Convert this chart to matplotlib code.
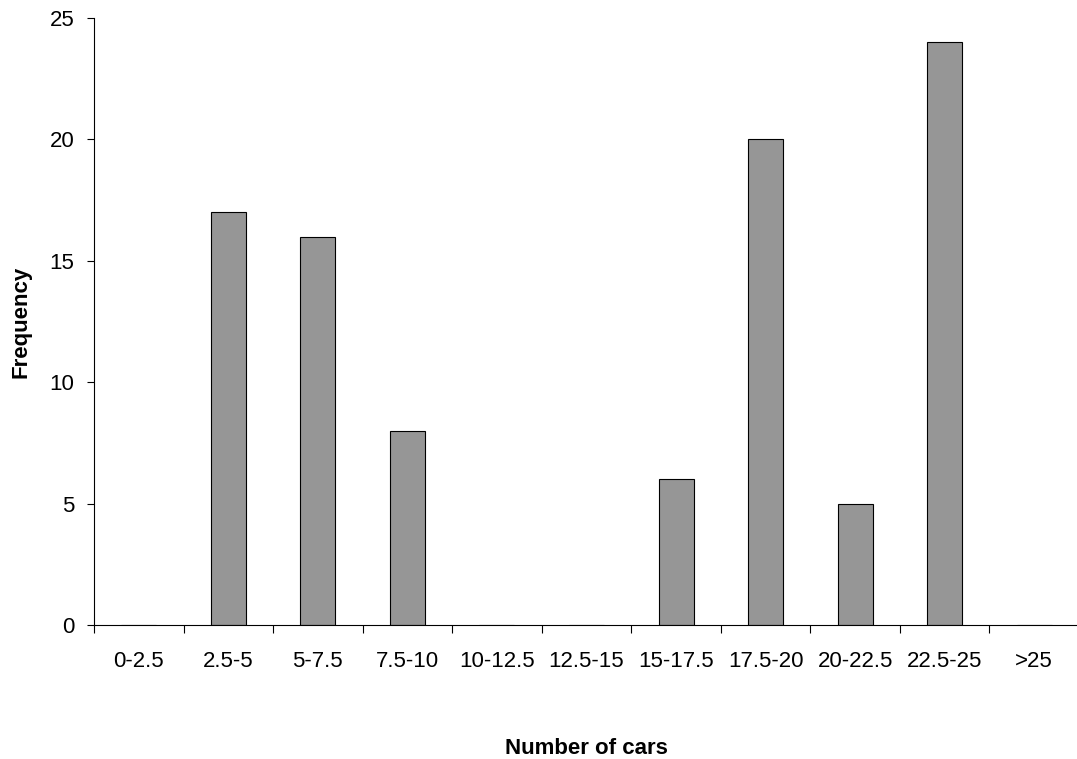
import matplotlib
matplotlib.use("Agg")
import matplotlib.pyplot as plt
import numpy as np

categories = ["0-2.5", "2.5-5", "5-7.5", "7.5-10", "10-12.5", "12.5-15",
              "15-17.5", "17.5-20", "20-22.5", "22.5-25", ">25"]
frequency = [0, 17, 16, 8, 0, 0, 6, 20, 5, 24, 0]

plt.rcParams['font.family'] = ['Liberation Sans', 'DejaVu Sans']

fig = plt.figure(figsize=(10.77, 7.59), dpi=100)
ax = fig.add_axes([94/1077, 1-625/759, 985/1077, (625-18)/759])

x = np.arange(len(categories))
ax.bar(x, frequency, width=0.39, color="#969696", edgecolor="black", linewidth=0.8)

ax.set_xlim(-0.5, len(categories) - 0.5)
ax.set_ylim(0, 25)
ax.set_yticks([0, 5, 10, 15, 20, 25])
ax.tick_params(axis='y', labelsize=16, direction='out', length=5, width=0.8, pad=9)

ax.set_xticks(np.arange(len(categories) + 1) - 0.5)
ax.set_xticklabels([])
ax.tick_params(axis='x', which='major', direction='out', length=6, width=0.8)
ax.set_xticks(x, minor=True)
ax.set_xticklabels(categories, minor=True)
ax.tick_params(axis='x', which='minor', length=0, labelsize=16, pad=19)

for s in ['top', 'right']:
    ax.spines[s].set_visible(False)
for s in ['left', 'bottom']:
    ax.spines[s].set_linewidth(0.8)

ax.set_xlabel("Number of cars", fontsize=16, fontweight='bold', labelpad=47)
ax.set_ylabel("Frequency", fontsize=16, fontweight='bold', labelpad=13)

fig.savefig("out.png", dpi=100)
